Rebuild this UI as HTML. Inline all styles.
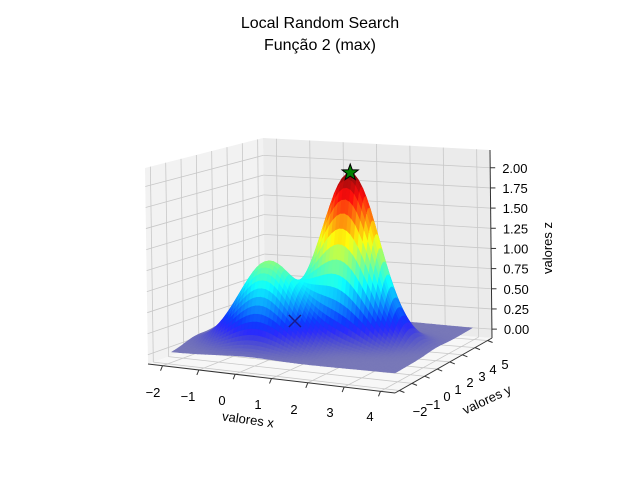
<!DOCTYPE html>
<html><head><meta charset="utf-8"><style>
body{margin:0;background:#fff}
text{font-family:"Liberation Sans",sans-serif;fill:#000}
</style></head><body>
<svg id="chart" width="640" height="480" viewBox="0 0 640 480">
<text x="320" y="28" font-size="16" text-anchor="middle">Local Random Search</text>
<text x="320" y="50" font-size="16" text-anchor="middle">Função 2 (max)</text>
<g id="panes"></g><g id="grid"></g><g id="surf"></g><g id="marks"></g><g id="labels"></g>
</svg>
<script>
const xTicks=[-2,-1,0,1,2,3,4];
const yTicks=[-2,-1,0,1,2,3,4,5];
const zTicks=[0,0.25,0.5,0.75,1.0,1.25,1.5,1.75,2.0];
const peakX=[0,1.7];
const peakY=[0,1.7];
const peakAmp=[1,2];
const peakSharp=[0.88,0.88];
const bestPoint=[1.7,1.7];
const startPoint=[-0.38,3.7,0];
const xlim=[-2.4,4.4], ylim=[-2.35,5.35], zlim=[-0.11,2.22];
const NS='http://www.w3.org/2000/svg';
function el(t,a,p){const e=document.createElementNS(NS,t);for(const k in a)e.setAttribute(k,a[k]);p.appendChild(e);return e;}
function f(x,y){let s=0;for(let i=0;i<peakX.length;i++)s+=peakAmp[i]*Math.exp(-peakSharp[i]*((x-peakX[i])**2+(y-peakY[i])**2));return s;}
function P(x,y,z){return [172+37.17*(x+2)+11*(y+2),352+3.5*(x+2)-6.43*(y+2)-84*z];}
function lerp(a,b,t){return [a[0]+(b[0]-a[0])*t,a[1]+(b[1]-a[1])*t];}
const FL=[148,364],FR=[395,393],BL=[265,322],BR=[492,338],TBL=[263,138],TBR=[490,150],TFL=[145,168];
const panes=document.getElementById('panes');
let p=el('polygon',{points:[TFL,TBL,BL,FL].join(' '),fill:'#f2f2f2'},panes);

p=el('polygon',{points:[TBL,TBR,BR,BL].join(' '),fill:'#ebebeb'},panes);

p=el('polygon',{points:[FL,BL,BR,FR].join(' '),fill:'#f7f7f7'},panes);

const grid=document.getElementById('grid');
function line(a,b,name,col,w){const l=el('line',{x1:a[0],y1:a[1],x2:b[0],y2:b[1],stroke:col||'#c8c8c8','stroke-width':w||0.8},grid);
}
xTicks.forEach(v=>{const t=(v-xlim[0])/(xlim[1]-xlim[0]);
 line(lerp(FL,FR,t),lerp(BL,BR,t),'floor-gridline-x');line(lerp(BL,BR,t),lerp(TBL,TBR,t),'back-gridline-x');
 const a=lerp(FL,FR,t);line(a,[a[0]-2,a[1]+5],'x-tick','#333',1);});
yTicks.forEach(v=>{const t=(v-ylim[0])/(ylim[1]-ylim[0]);
 line(lerp(FL,BL,t),lerp(FR,BR,t),'floor-gridline-y');line(lerp(FL,BL,t),lerp(TFL,TBL,t),'left-gridline-y');
 const a=lerp(FR,BR,t);line(a,[a[0]+5,a[1]+2],'y-tick','#333',1);});
zTicks.forEach(v=>{const t=(v-zlim[0])/(zlim[1]-zlim[0]);
 line(lerp(FL,TFL,t),lerp(BL,TBL,t),'left-gridline-z');line(lerp(BL,TBL,t),lerp(BR,TBR,t),'back-gridline-z');
 const a=lerp(BR,TBR,t);line(a,[a[0]+5,a[1]],'z-tick','#333',1);});
line(FL,FR,'x-axis-line','#333',1);line(FR,BR,'y-axis-line','#333',1);line(BR,TBR,'z-axis-line','#333',1);
function jet(t){t=Math.max(0,Math.min(1,t));const c=v=>Math.max(0,Math.min(1,1.5-Math.abs(v)));
 return [c(4*t-3),c(4*t-2),c(4*t-1)];}
const surf=document.getElementById('surf');
const N=60,cells=[];
for(let i=0;i<N;i++)for(let j=0;j<N;j++){
 const x0=-2+6*i/N,x1=-2+6*(i+1)/N,y0=-2+7*j/N,y1=-2+7*(j+1)/N;
 const pts=[[x0,y0],[x1,y0],[x1,y1],[x0,y1]].map(q=>P(q[0],q[1],f(q[0],q[1])));
 const zc=f((x0+x1)/2,(y0+y1)/2);
 const d=P((x0+x1)/2,(y0+y1)/2,0)[1];
 cells.push({pts,zc,d});}
cells.sort((a,b)=>a.d-b.d);
cells.forEach(c=>{const col=jet(c.zc/2.0);const a=0.5+0.45*Math.min(c.zc/0.35,1);
 const bg=240;const rgb=col.map(v=>Math.round(v*255*a+bg*(1-a)));
 const s='rgb('+rgb.join(',')+')';
 const q=el('polygon',{points:c.pts.map(v=>v[0].toFixed(1)+','+v[1].toFixed(1)).join(' '),fill:s,stroke:s,'stroke-width':0.6},surf);
 });
const marks=document.getElementById('marks');
const bp=P(bestPoint[0],bestPoint[1],f(bestPoint[0],bestPoint[1]));
let sp=[];for(let k=0;k<10;k++){const r=k%2?3.5:8.5,a=-Math.PI/2+k*Math.PI/5;sp.push((bp[0]+r*Math.cos(a)).toFixed(1)+','+(bp[1]+r*Math.sin(a)).toFixed(1));}
let st=el('polygon',{points:sp.join(' '),fill:'#008000',stroke:'#000','stroke-width':1},marks);

const xp=P(startPoint[0],startPoint[1],startPoint[2]);
let xm=el('path',{d:`M${xp[0]-6},${xp[1]-6}L${xp[0]+6},${xp[1]+6}M${xp[0]-6},${xp[1]+6}L${xp[0]+6},${xp[1]-6}`,stroke:'#1a1a8c','stroke-width':1.5},marks);

const lab=document.getElementById('labels');
function txt(s,x,y,name,extra){const t=el('text',Object.assign({x,y,'font-size':13},extra||{}),lab);t.textContent=s;
 }
const mn=v=>(v<0?'\u2212'+(-v):''+v);
const xLab=[[153,397],[188,401],[222,405],[258,409],[294,414],[330,417],[370,421]];
xTicks.forEach((v,i)=>txt(mn(v),xLab[i][0],xLab[i][1],'x-tick-label',{'text-anchor':'middle'}));
const yLab=[[420,416],[433,409],[447,401],[458,394],[470,387],[482,381],[493,374],[505,369]];
yTicks.forEach((v,i)=>txt(mn(v),yLab[i][0],yLab[i][1],'y-tick-label',{'text-anchor':'middle'}));
zTicks.forEach(v=>{const t=(v-zlim[0])/(zlim[1]-zlim[0]);const a=lerp(BR,TBR,t);txt(v.toFixed(2),a[0]+12,a[1]+5,'z-tick-label');});
txt('valores x',248,424,'x-axis-title',{'text-anchor':'middle',transform:'rotate(8 248 420)'});
txt('valores y',487,404,'y-axis-title',{'text-anchor':'middle',transform:'rotate(-25 487 400)'});
txt('valores z',552,248,'z-axis-title',{'text-anchor':'middle',transform:'rotate(-90 552 248)'});
</script>
</body></html>
